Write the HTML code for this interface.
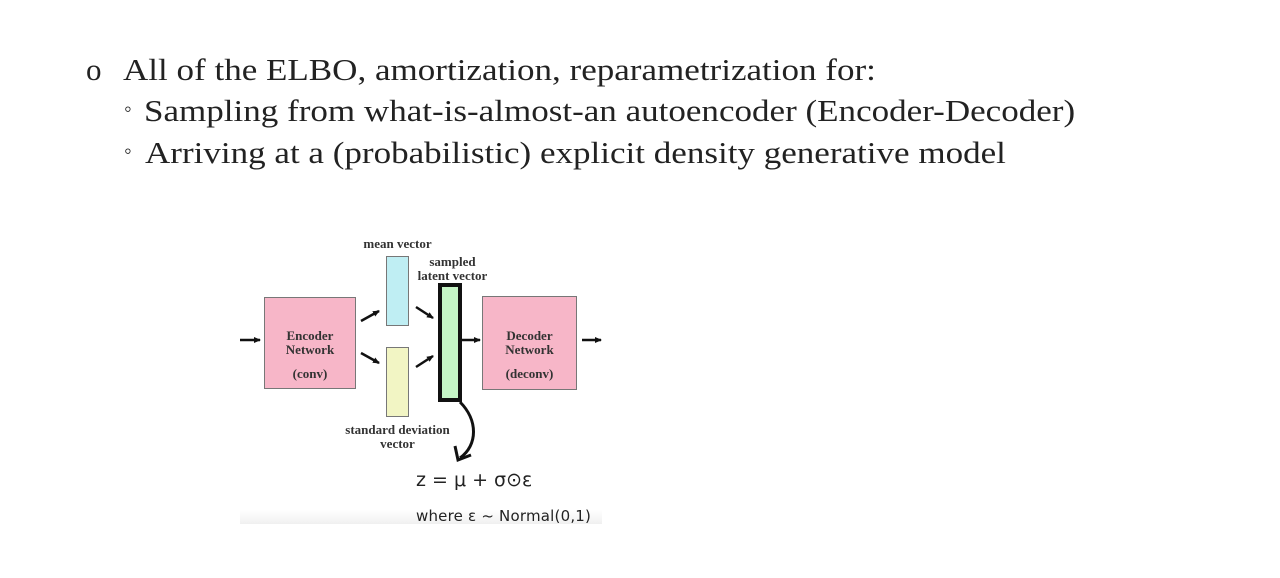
<!DOCTYPE html>
<html><head><style>
body{margin:0;width:1280px;height:578px;background:#fff;position:relative;overflow:hidden;font-family:"Liberation Serif",serif;color:#222}
.t{position:absolute;white-space:nowrap}
.s{transform:scaleX(1.13);transform-origin:0 0}
.box{position:absolute;box-sizing:border-box}
.lbl{position:absolute;font-size:13px;font-weight:bold;color:#333;text-align:center;line-height:14px;white-space:nowrap}
</style></head><body>
<div class="t" style="left:86px;top:52px;font-size:31px">o</div>
<div class="t s" style="left:123px;top:52px;font-size:31px">All of the ELBO, amortization, reparametrization for:</div>
<div class="t" style="left:124px;top:96px;font-size:22px">◦</div>
<div class="t s" style="left:144px;top:93px;font-size:31px">Sampling from what-is-almost-an autoencoder (Encoder-Decoder)</div>
<div class="t" style="left:124px;top:138px;font-size:22px">◦</div>
<div class="t s" style="left:145px;top:135px;font-size:31px">Arriving at a (probabilistic) explicit density generative model</div>

<div class="box" style="left:240px;top:510px;width:362px;height:14px;background:linear-gradient(#fff,#f0f0f0)"></div>
<div class="box" style="left:264px;top:297px;width:92px;height:92px;background:#f7b6c8;border:1px solid #777"></div>
<div class="box" style="left:386px;top:256px;width:23px;height:70px;background:#bfeef3;border:1px solid #777"></div>
<div class="box" style="left:386px;top:347px;width:23px;height:70px;background:#f2f5c4;border:1px solid #777"></div>
<div class="box" style="left:438px;top:283px;width:24px;height:119px;background:#c5f5c6;border:4px solid #111"></div>
<div class="box" style="left:482px;top:296px;width:95px;height:94px;background:#f7b6c8;border:1px solid #777"></div>

<div class="lbl" style="left:264px;top:329px;width:92px">Encoder<br>Network</div>
<div class="lbl" style="left:264px;top:367px;width:92px">(conv)</div>
<div class="lbl" style="left:482px;top:329px;width:95px">Decoder<br>Network</div>
<div class="lbl" style="left:482px;top:367px;width:95px">(deconv)</div>
<div class="lbl" style="left:350px;top:237px;width:95px">mean vector</div>
<div class="lbl" style="left:405px;top:255px;width:95px">sampled<br>latent vector</div>
<div class="lbl" style="left:330px;top:423px;width:135px">standard deviation<br>vector</div>

<svg style="position:absolute;left:0;top:0" width="1280" height="578">
<defs><marker id="a" markerUnits="userSpaceOnUse" markerWidth="8" markerHeight="8" refX="6" refY="4" orient="auto"><path d="M0,1 L7,4 L0,7 z" fill="#111"/></marker></defs>
<g stroke="#111" stroke-width="2.5" fill="none" marker-end="url(#a)">
<line x1="240" y1="340" x2="260" y2="340"/>
<line x1="361" y1="321" x2="379" y2="311"/>
<line x1="361" y1="353" x2="379" y2="363"/>
<line x1="416" y1="307" x2="433" y2="318"/>
<line x1="416" y1="367" x2="433" y2="356"/>
<line x1="462" y1="340" x2="480" y2="340"/>
<line x1="582" y1="340" x2="601" y2="340"/>
</g>
<path d="M460,402 C478,420 478,445 460,458" stroke="#111" stroke-width="3" fill="none"/>
<path d="M455,446 L458,460 L471,455" stroke="#111" stroke-width="3" fill="none"/>
</svg>
<div class="t" style="left:416px;top:469px;font-size:19px;font-family:'DejaVu Sans',sans-serif;color:#222">z = μ + σ⊙ε</div>
<div class="t" style="left:416px;top:507px;font-size:15px;font-family:'DejaVu Sans',sans-serif;color:#222;letter-spacing:0.2px">where ε ~ Normal(0,1)</div>
</body></html>
